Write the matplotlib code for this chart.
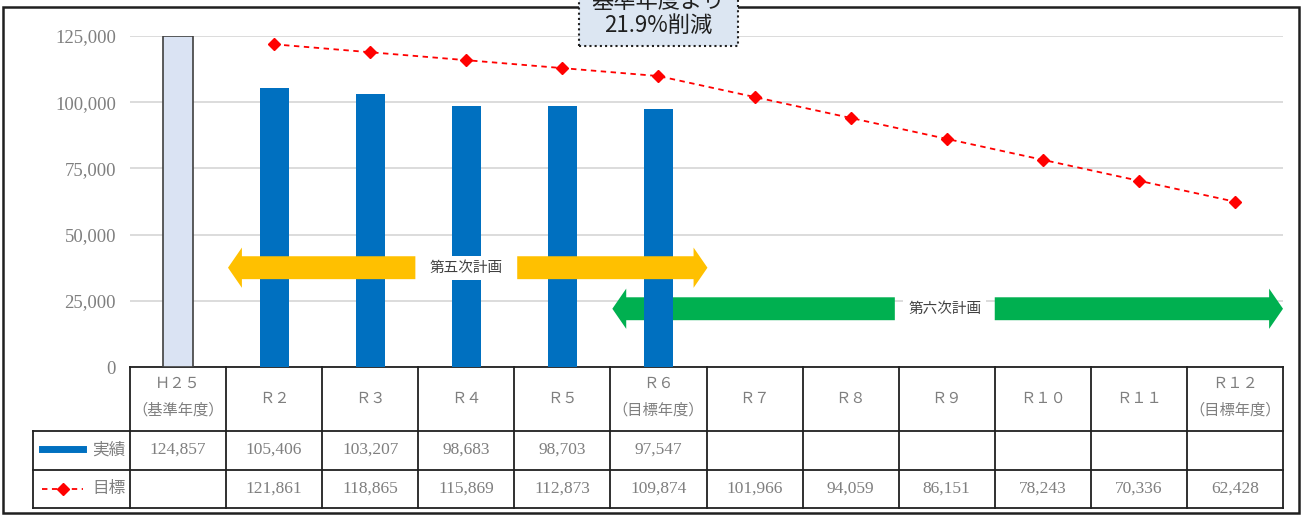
import numpy as np
import matplotlib
matplotlib.use("Agg")
import matplotlib.pyplot as plt
from matplotlib.patches import Rectangle
from matplotlib.lines import Line2D
from matplotlib.transforms import blended_transform_factory

plt.rcParams["font.family"] = ["Noto Sans CJK JP", "DejaVu Sans"]

# data
years = ["Ｈ２５", "Ｒ２", "Ｒ３", "Ｒ４", "Ｒ５", "Ｒ６", "Ｒ７", "Ｒ８", "Ｒ９", "Ｒ１０", "Ｒ１１", "Ｒ１２"]
notes = ["（基準年度）", "", "", "", "", "（目標年度）", "", "", "", "", "", "（目標年度）"]
actual = [124857, 105406, 103207, 98683, 98703, 97547,
          np.nan, np.nan, np.nan, np.nan, np.nan, np.nan]
target = [np.nan, 121861, 118865, 115869, 112873, 109874,
          101966, 94059, 86151, 78243, 70336, 62428]
yticks = [0, 25000, 50000, 75000, 100000, 125000]

W, H = 1307, 515
fig = plt.figure(figsize=(W / 100, H / 100), dpi=100)


def fx(x):
    return x / W


def fy(y):
    return 1 - y / H


ax = fig.add_axes([fx(130), fy(367), fx(1283) - fx(130), fy(36) - fy(367)])
x = np.arange(len(years))
ax.set_xlim(-0.5, len(years) - 0.5)
ax.set_ylim(0, 125000)

# bars
ax.bar(x[:1], actual[:1], width=0.32, color="#dae3f3", edgecolor="#404040", lw=1.2, zorder=3)
ax.bar(x[1:], actual[1:], width=0.3, color="#0070c0", zorder=3)

# target line
ax.plot(x, target, color="#ff0000", ls=(0, (3, 2.5)), lw=1.3, marker="D", ms=6,
        mfc="#ff0000", mec="#ff0000", zorder=5, clip_on=False)

# plan arrows
def plan_arrow(center, gap, left, right, yv, color, label, z):
    style = "simple,head_length=1.0,head_width=2.9,tail_width=1.65"
    for a, b in [(center - gap, left), (center + gap, right)]:
        ax.annotate("", xy=(b, yv), xytext=(a, yv),
                    arrowprops=dict(arrowstyle=style, color=color, lw=0,
                                    shrinkA=0, shrinkB=0, mutation_scale=10),
                    zorder=z, annotation_clip=False)
    ax.text(center, yv, label, ha="center", va="center", fontsize=10.5,
            color="#404040", zorder=z + 1,
            bbox=dict(facecolor="white", edgecolor="none", boxstyle="square,pad=0.35"))


plan_arrow(3.0, 0.53, 0.52, 5.51, 37500, "#ffc000", "第五次計画", 6)
plan_arrow(7.98, 0.52, 4.52, 11.5, 22000, "#00b050", "第六次計画", 2)

ax.set_yticks(yticks)
ax.set_yticklabels([f"{v:,}" for v in yticks], family="Liberation Serif",
                   fontsize=13.5, color="#7f7f7f")
ax.tick_params(axis="y", length=0, pad=10)
ax.set_xticks([])
ax.yaxis.grid(True, color="#d9d9d9", lw=1.3, zorder=0)
ax.set_axisbelow(True)
for s in ax.spines.values():
    s.set_visible(False)

# data table
trans = blended_transform_factory(ax.transData, fig.transFigure)
y_top, y_r1, y_r2, y_bot = fy(367), fy(431), fy(470), fy(508)
tcol = "#202020"
for i in range(len(years) + 1):
    ax.add_line(Line2D([i - 0.5, i - 0.5], [y_top, y_bot], transform=trans,
                       color=tcol, lw=1.3, clip_on=False))
ax.add_line(Line2D([-0.5, len(years) - 0.5], [y_top, y_top], transform=trans,
                   color=tcol, lw=1.3, clip_on=False))
for yy in (y_r1, y_r2, y_bot):
    fig.add_artist(Line2D([fx(33), fx(1283)], [yy, yy], color=tcol, lw=1.3))
fig.add_artist(Line2D([fx(33), fx(33)], [y_r1, y_bot], color=tcol, lw=1.3))

gray = "#7f7f7f"
for i, (yr, nt) in enumerate(zip(years, notes)):
    if nt:
        ax.text(i, fy(383), yr, transform=trans, ha="center", va="center",
                fontsize=11, color=gray)
        ax.text(i, fy(410), nt, transform=trans, ha="center", va="center",
                fontsize=11, color=gray)
    else:
        ax.text(i, fy(398), yr, transform=trans, ha="center", va="center",
                fontsize=11, color=gray)
    if not np.isnan(actual[i]):
        ax.text(i, fy(450), f"{int(actual[i]):,}", transform=trans, ha="center",
                va="center", fontsize=12.5, color=gray, family="Liberation Serif")
    if not np.isnan(target[i]):
        ax.text(i, fy(489), f"{int(target[i]):,}", transform=trans, ha="center",
                va="center", fontsize=12.5, color=gray, family="Liberation Serif")

# legend keys inside the table
fig.add_artist(Line2D([fx(42), fx(83)], [fy(449), fy(449)], color="#0070c0", lw=5))
fig.add_artist(Line2D([fx(42), fx(62.5), fx(83)], [fy(489)] * 3, color="#ff0000",
                      lw=1.3, ls=(0, (3, 2.5)), marker="D", ms=6, markevery=[1]))
fig.text(fx(109), fy(450), "実績", ha="center", va="center", fontsize=12, color=gray)
fig.text(fx(109), fy(489), "目標", ha="center", va="center", fontsize=12, color=gray)

# outer frame
fig.add_artist(Rectangle((fx(3), fy(513)), fx(1299) - fx(3), fy(7) - fy(513),
                         fill=False, edgecolor="#202020", lw=1.8))

# callout box at the top (partly cut off, as in the source)
fig.add_artist(Rectangle((fx(579), fy(46)), fx(738) - fx(579), fy(-20) - fy(46),
                         facecolor="#dce6f2", edgecolor="#202020", lw=1.5,
                         ls=(0, (1, 1.5)), zorder=10))
fig.text(fx(658), fy(1), "基準年度より", ha="center", va="center", fontsize=16,
         color="#202020", zorder=11)
fig.text(fx(658), fy(25), "21.9%削減", ha="center", va="center", fontsize=16,
         color="#202020", zorder=11)

fig.savefig("out.png", dpi=100)
